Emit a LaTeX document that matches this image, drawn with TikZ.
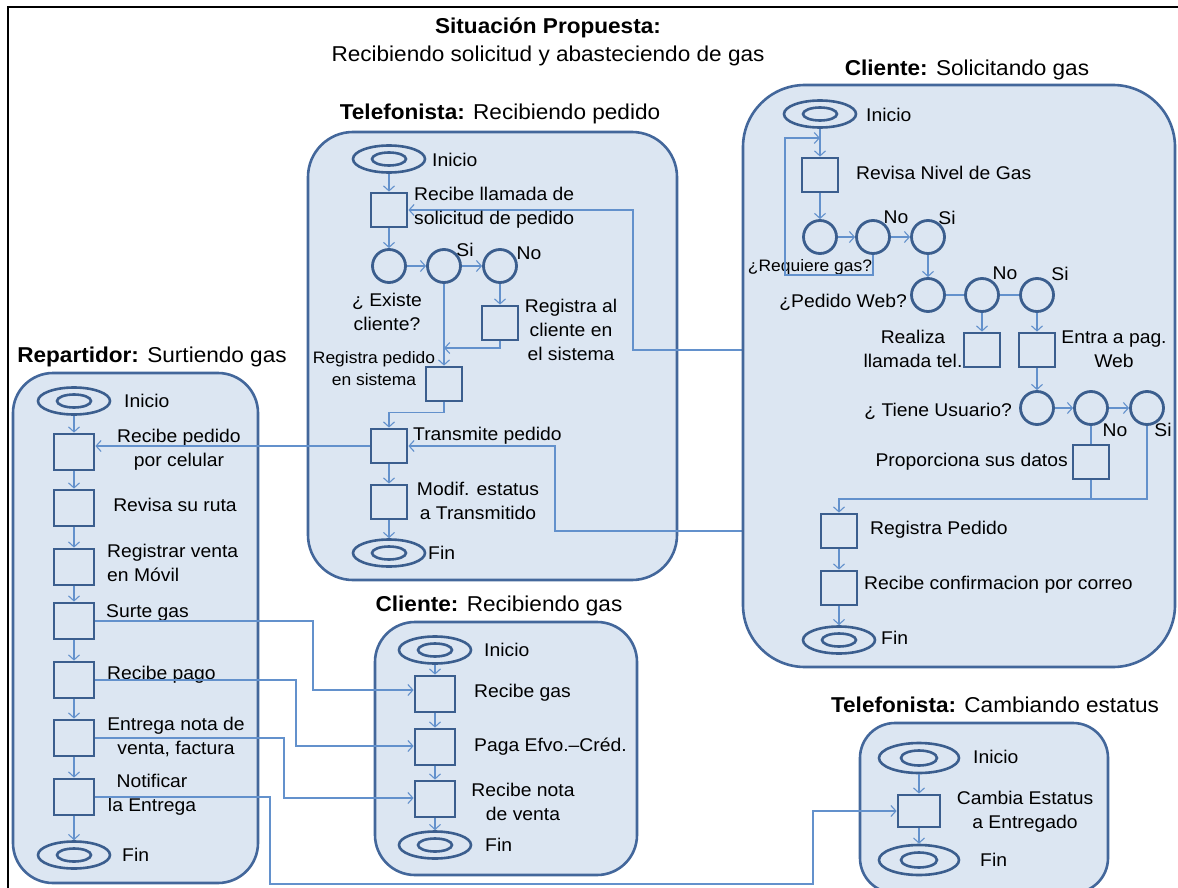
\documentclass[tikz,border=0pt]{standalone}
\usepackage{fontspec}
\setmainfont[FakeStretch=1.05]{Liberation Sans}
\usetikzlibrary{arrows.meta,shapes.geometric}
\definecolor{boxfill}{HTML}{DCE6F2}
\definecolor{boxline}{HTML}{43679B}
\definecolor{shapeline}{HTML}{3B5E8E}
\definecolor{connc}{HTML}{6391CC}
\pgfdeclarelayer{back}
\pgfdeclarelayer{wires}
\pgfdeclarelayer{cover}
\pgfsetlayers{back,wires,cover,main}
\tikzset{
 lane/.style={draw=boxline, fill=boxfill, line width=2.6pt, inner sep=0, rectangle},
 sqa/.style={draw=shapeline, line width=2.8pt, minimum width=36pt, minimum height=34pt, inner sep=0, rectangle},
 sqb/.style={sqa, minimum width=40pt, minimum height=36pt},
 circ/.style={circle, draw=shapeline, line width=2.8pt, minimum size=33pt, inner sep=0},
 term/.style={ellipse, draw=shapeline, line width=2.6pt, minimum width=72pt, minimum height=27pt, inner sep=0,
   path picture={\draw[shapeline, line width=2.6pt] (path picture bounding box.center) ellipse (17pt and 6.5pt);}},
 bigterm/.style={ellipse, draw=shapeline, line width=2.6pt, minimum width=80pt, minimum height=30pt, inner sep=0,
   path picture={\draw[shapeline, line width=2.6pt] (path picture bounding box.center) ellipse (18pt and 7.5pt);}},
 txt/.style={font=\fontsize{18.4}{24}\selectfont, inner sep=0, text=black},
 stxt/.style={font=\fontsize{16.6}{22}\selectfont, inner sep=0, text=black},
 head/.style={font=\fontsize{21.5}{27}\selectfont, inner sep=0, text=black},
 conn/.style={draw=connc, line width=1.1pt},
 arr/.style={conn, -{Straight Barb[length=5pt,width=11pt]}},
}
\begin{document}
\begin{tikzpicture}[x=1pt,y=-1pt]
\useasboundingbox (0,0) rectangle (1178,888);
\begin{pgfonlayer}{back}
\fill[white] (0,0) rectangle (1178,888);
\node[lane, rounded corners=45pt, minimum width=369pt, minimum height=448pt] (tbox) at (492.5,356) {};
\node[lane, rounded corners=40pt, minimum width=245pt, minimum height=510pt] (rbox) at (135.5,628) {};
\node[lane, rounded corners=40pt, minimum width=262pt, minimum height=253pt] (gbox) at (506,748.5) {};
\node[lane, rounded corners=35pt, minimum width=248pt, minimum height=170pt] (ebox) at (984,808) {};
\end{pgfonlayer}
\begin{pgfonlayer}{cover}
\node[lane, rounded corners=62pt, minimum width=432pt, minimum height=582pt] (cbox) at (959,376) {};
\end{pgfonlayer}

% frame
\draw[line width=2pt] (8,888) -- (8,7) -- (1178,7);

% titles
\node[head] (ttl1) at (548,28) {\bfseries Situación Propuesta:};
\node[head] (ttl2) at (548,56) {Recibiendo solicitud y abasteciendo de gas};
\node[head] (h1) at (500,114) {\textbf{Telefonista:} Recibiendo pedido};
\node[head] (h2) at (967,70) {\textbf{Cliente:} Solicitando gas};
\node[head] (h3) at (152,357) {\textbf{Repartidor:} Surtiendo gas};
\node[head] (h4) at (499,606) {\textbf{Cliente:} Recibiendo gas};
\node[head] (h5) at (995,705) {\textbf{Telefonista:} Cambiando estatus};

% Telefonista: Recibiendo pedido
\node[term] (ti) at (389,159) {};
\node[txt, anchor=west] (tiL) at (432,160) {Inicio};
\node[sqa] (t1) at (389,210) {};
\node[txt, anchor=west, align=left] (t1L) at (414,208) {Recibe llamada de\\solicitud de pedido};
\node[circ] (tc1) at (389,266) {};
\node[circ] (tc2) at (444,266) {};
\node[circ] (tc3) at (500,266) {};
\node[txt] (siA) at (465,250) {Si};
\node[txt] (noA) at (529,253) {No};
\node[txt, align=center] (tc1L) at (387,312) {¿ Existe\\cliente?};
\node[sqa] (t2) at (500,323) {};
\node[txt, align=center] (t2L) at (571,330) {Registra al\\cliente en\\el sistema};
\node[sqa] (t3) at (444,384) {};
\node[stxt, align=center] (t3L) at (374,369) {Registra pedido\\en sistema};
\node[sqa] (t4) at (389,446) {};
\node[txt, anchor=west] (t4L) at (413,436) {Transmite pedido};
\node[sqa] (t5) at (389,502) {};
\node[txt, align=center] (t5L) at (478,501) {Modif. estatus\\a Transmitido};
\node[term] (tf) at (389,553) {};
\node[txt, anchor=west] (tfL) at (428,553) {Fin};

\draw[arr] (ti.south) -- (t1.north);
\draw[arr] (t1.south) -- (tc1.north);
\draw[arr] (tc1.east) -- (tc2.west);
\draw[arr] (tc2.east) -- (tc3.west);
\draw[arr] (tc3.south) -- (t2.north);
\coordinate (j1) at (444,348);
\draw[arr] (t2.south) |- (j1);
\draw[arr] (tc2.south) -- (t3.north);
\draw[arr] (t3.south) -- ++(0,10) -| (t4.north);
\draw[arr] (t4.south) -- (t5.north);
\draw[arr] (t5.south) -- (tf.north);

% Repartidor
\node[term] (ri) at (74,401) {};
\node[txt, anchor=west] (riL) at (124,401) {Inicio};
\node[sqb] (r1) at (74,452) {};
\node[txt, align=center] (r1L) at (179,450) {Recibe pedido\\por celular};
\node[sqb] (r2) at (74,508) {};
\node[txt] (r2L) at (175,505) {Revisa su ruta};
\node[sqb] (r3) at (74,567) {};
\node[txt, anchor=west, align=left] (r3L) at (107,563) {Registrar venta\\en Móvil};
\node[sqb] (r4) at (74,621) {};
\node[txt, anchor=west] (r4L) at (106,613) {Surte gas};
\node[sqb] (r5) at (74,680) {};
\node[txt, anchor=west] (r5L) at (107,675) {Recibe pago};
\node[sqb] (r6) at (74,738) {};
\node[txt, align=center] (r6L) at (176,737) {Entrega nota de\\venta, factura};
\node[sqb] (r7) at (74,797) {};
\node[txt, align=center] (r7L) at (152,795) {Notificar\\la Entrega};
\node[term] (rf) at (74,855) {};
\node[txt, anchor=west] (rfL) at (122,855) {Fin};
\foreach \a/\b in {ri/r1,r1/r2,r2/r3,r3/r4,r4/r5,r5/r6,r6/r7,r7/rf}
  \draw[arr] (\a.south) -- (\b.north);

% Cliente: Recibiendo gas
\node[term] (gi) at (435,650) {};
\node[txt, anchor=west] (giL) at (484,650) {Inicio};
\node[sqb] (g1) at (435,694) {};
\node[txt, anchor=west] (g1L) at (474,693) {Recibe gas};
\node[sqb] (g2) at (435,747) {};
\node[txt, anchor=west] (g2L) at (474,747) {Paga Efvo.–Créd.};
\node[sqb] (g3) at (435,799) {};
\node[txt, align=center] (g3L) at (523,802) {Recibe nota\\de venta};
\node[term] (gf) at (435,845) {};
\node[txt, anchor=west] (gfL) at (485,845) {Fin};
\foreach \a/\b in {gi/g1,g1/g2,g2/g3,g3/gf}
  \draw[arr] (\a.south) -- (\b.north);

% Telefonista: Cambiando estatus
\node[bigterm] (ei) at (919,758) {};
\node[txt, anchor=west] (eiL) at (973,757) {Inicio};
\node[sqa, minimum width=42pt, minimum height=32pt] (e1) at (919,811) {};
\node[txt, align=center] (e1L) at (1025,812) {Cambia Estatus\\a Entregado};
\node[bigterm] (ef) at (919,860) {};
\node[txt, anchor=west] (efL) at (980,860) {Fin};
\draw[arr] (ei.south) -- (e1.north);
\draw[arr] (e1.south) -- (ef.north);

% Cliente: Solicitando gas
\node[term] (ci) at (820,114) {};
\node[txt, anchor=west] (ciL) at (866,115) {Inicio};
\node[sqa] (c1) at (820,175) {};
\node[txt, anchor=west] (c1L) at (856,173) {Revisa Nivel de Gas};
\node[circ] (cc1) at (820,237) {};
\node[circ] (cc2) at (873,237) {};
\node[circ] (cc3) at (928,237) {};
\node[txt] (noB) at (896,217) {No};
\node[txt] (siB) at (947,218) {Si};
\node[stxt] (cc1L) at (810,267) {¿Requiere gas?};
\node[circ] (cc4) at (928,295) {};
\node[circ] (cc5) at (982,295) {};
\node[circ] (cc6) at (1037,295) {};
\node[txt, anchor=east] (cc4L) at (907,302) {¿Pedido Web?};
\node[txt] (noC) at (1005,273) {No};
\node[txt] (siC) at (1060,274) {Si};
\node[sqa] (c2) at (982,350) {};
\node[txt, align=center] (c2L) at (913,349) {Realiza\\llamada tel.};
\node[sqa] (c3) at (1037,350) {};
\node[txt, align=center] (c3L) at (1114,349) {Entra a pag.\\Web};
\node[circ] (cc7) at (1037,408) {};
\node[circ] (cc8) at (1091,408) {};
\node[circ] (cc9) at (1147,408) {};
\node[txt, anchor=east] (cc7L) at (1012,411) {¿ Tiene Usuario?};
\node[txt] (noD) at (1115,430) {No};
\node[txt] (siD) at (1163,430) {Si};
\node[sqa] (c4) at (1091,462) {};
\node[txt, anchor=east] (c4L) at (1068,462) {Proporciona sus datos};
\node[sqa] (c5) at (839,531) {};
\node[txt, anchor=west] (c5L) at (870,530) {Registra Pedido};
\node[sqa] (c6) at (839,588) {};
\node[txt, anchor=west] (c6L) at (864,585) {Recibe confirmacion por correo};
\node[term] (cf) at (839,640) {};
\node[txt, anchor=west] (cfL) at (881,638) {Fin};

\draw[arr] (ci.south) -- (c1.north);
\draw[arr] (c1.south) -- (cc1.north);
\draw[arr] (cc1.east) -- (cc2.west);
\draw[arr] (cc2.east) -- (cc3.west);
\coordinate (lp1) at (785,275);
\coordinate (lp2) at (785,138);
\draw[arr] (cc2.south) |- (lp1) -- (lp2) -- (lp2 -| ci.south);
\draw[arr] (cc3.south) -- (cc4.north);
\draw[conn] (cc4.east) -- (cc5.west) (cc5.east) -- (cc6.west);
\draw[arr] (cc5.south) -- (c2.north);
\draw[arr] (cc6.south) -- (c3.north);
\draw[arr] (c3.south) -- (cc7.north);
\draw[arr] (cc7.east) -- (cc8.west);
\draw[arr] (cc8.east) -- (cc9.west);
\draw[conn] (cc8.south) -- (c4.north);
\coordinate (jn) at (1147,499);
\draw[arr] (cc9.south) |- (c5.north |- jn) -- (c5.north);
\draw[conn] (c4.south) -- (c4.south |- jn);
\draw[arr] (c5.south) -- (c6.north);
\draw[arr] (c6.south) -- (cf.north);

% cross connectors hidden under the Cliente box
\coordinate (w1) at (633,350);
\coordinate (w2) at (555,531);
\begin{pgfonlayer}{wires}
\draw[arr] (c2.west) -- (w1) |- (t1.east);
\draw[arr] (c5.west) -- (w2) |- (t4.east);
\end{pgfonlayer}

% cross connectors
\draw[arr] (t4.west) -- (t4.west -| r1.east);
\coordinate (v1) at (313,690);
\draw[arr] (r4.east) -| (v1) -- (v1 -| g1.west);
\coordinate (v2) at (296,746);
\draw[arr] (r5.east) -| (v2) -- (v2 -| g2.west);
\coordinate (v3) at (284,798);
\draw[arr] (r6.east) -| (v3) -- (v3 -| g3.west);
\coordinate (v4) at (270,884);
\coordinate (v5) at (813,884);
\draw[arr] (r7.east) -| (v4) -- (v5) |- (e1.west);
\end{tikzpicture}
\end{document}
